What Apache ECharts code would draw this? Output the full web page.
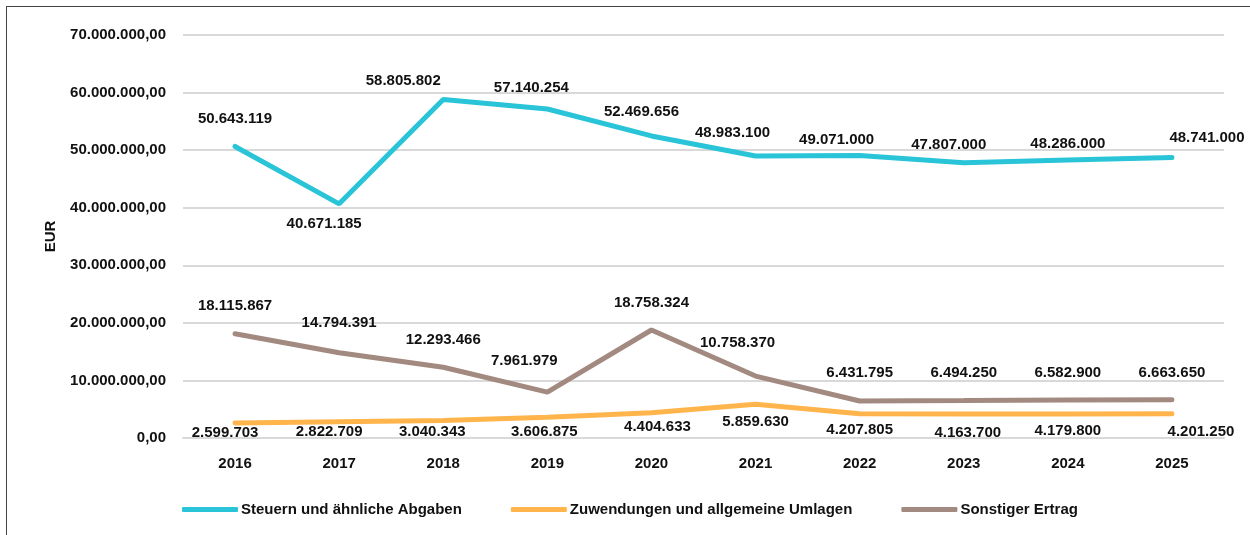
<!DOCTYPE html>
<html>
<head>
<meta charset="utf-8">
<script src="https://cdn.jsdelivr.net/npm/echarts@6/dist/echarts.min.js"></script>
<style>
    html, body { margin: 0; padding: 0; background: #fff; }
    #frame {
        position: absolute; left: 6px; top: 6px; width: 1250px; height: 540px;
        border-left: 1px solid #444; border-top: 1px solid #444;
    }
    #chart { position: absolute; left: 0; top: 0; width: 1250px; height: 535px; }
</style>
</head>
<body>
<div id="frame"></div>
<div id="chart"></div>
<script>
const years = ['2016', '2017', '2018', '2019', '2020', '2021', '2022', '2023', '2024', '2025'];
const steuern = [50643119, 40671185, 58805802, 57140254, 52469656, 48983100, 49071000, 47807000, 48286000, 48741000];
const zuwendungen = [2599703, 2822709, 3040343, 3606875, 4404633, 5859630, 4207805, 4163700, 4179800, 4201250];
const sonstiger = [18115867, 14794391, 12293466, 7961979, 18758324, 10758370, 6431795, 6494250, 6582900, 6663650];
const seriesNames = ['Steuern und ähnliche Abgaben', 'Zuwendungen und allgemeine Umlagen', 'Sonstiger Ertrag'];

const font = '"Liberation Sans", Arial, sans-serif';
const fs = 15;
const fmt = v => Math.round(v).toString().replace(/\B(?=(\d{3})+(?!\d))/g, '.');

// label placement, one entry per year: [distance, x shift]; the labels were hand placed in the original
const steuernLabelPos = [[20, 0], [13, -15], [11, -40], [14, -16], [17, -10], [16, -23], [8, -23], [10, -15], [9, 0], [12, 35]];
const zuwendungenLabelPos = [[2, -10], [3, -10], [4, -11], [7, -3], [7, 6], [10, 0], [9, 0], [11, 4], [9, 0], [11, 29]];
const sonstigerLabelPos = [[20, 0], [22, 0], [20, 0], [24, -23], [20, 0], [26, -18], [21, 0], [20, 0], [20, 0], [19, 0]];

function withLabels(values, placement, side) {
    return values.map((v, i) => ({
        value: v,
        label: {
            position: Array.isArray(side) ? side[i] : side,
            distance: placement[i][0],
            offset: [placement[i][1], 0]
        }
    }));
}

function lineSeries(name, data, color) {
    return {
        name: name,
        type: 'line',
        data: data,
        color: color,
        lineStyle: { width: 5, cap: 'round' },
        symbol: 'circle',
        symbolSize: 0,
        showSymbol: true,
        label: {
            show: true,
            color: '#111', fontSize: fs, fontFamily: font, fontWeight: 'bold',
            formatter: p => fmt(p.value)
        }
    };
}

const chart = echarts.init(document.getElementById('chart'));
chart.setOption({
    animation: false,
    textStyle: { fontFamily: font },
    grid: { left: 183, right: 26, top: 35, bottom: 97 },
    legend: {
        bottom: 13,
        left: 177,
        itemWidth: 56,
        itemHeight: 5,
        itemGap: 49,
        icon: 'roundRect',
        textStyle: { fontFamily: font, fontSize: fs, fontWeight: 'bold', color: '#111', padding: [0, 0, 0, -2] },
        data: seriesNames
    },
    xAxis: {
        type: 'category',
        data: years,
        axisLine: { lineStyle: { color: '#d9d9d9', width: 2 } },
        axisTick: { show: false },
        axisLabel: { color: '#111', fontSize: fs, fontFamily: font, fontWeight: 'bold', margin: 18 }
    },
    yAxis: {
        type: 'value',
        min: 0,
        max: 70000000,
        interval: 10000000,
        name: 'EUR',
        nameLocation: 'middle',
        nameMoveOverlap: false,
        nameGap: 125,
        nameTextStyle: { color: '#111', fontSize: fs, fontFamily: font, fontWeight: 'bold' },
        axisLine: { show: false },
        axisTick: { show: false },
        splitLine: { lineStyle: { color: '#d9d9d9', width: 2 } },
        axisLabel: {
            color: '#111', fontSize: fs, fontFamily: font, fontWeight: 'bold', margin: 17,
            formatter: v => fmt(v) + ',00'
        }
    },
    series: [
        lineSeries(seriesNames[0], withLabels(steuern, steuernLabelPos,
            ['top', 'bottom', 'top', 'top', 'top', 'top', 'top', 'top', 'top', 'top']), '#29c4d8'),
        lineSeries(seriesNames[1], withLabels(zuwendungen, zuwendungenLabelPos, 'bottom'), '#ffb54c'),
        lineSeries(seriesNames[2], withLabels(sonstiger, sonstigerLabelPos, 'top'), '#a38a80')
    ]
});
</script>
</body>
</html>
